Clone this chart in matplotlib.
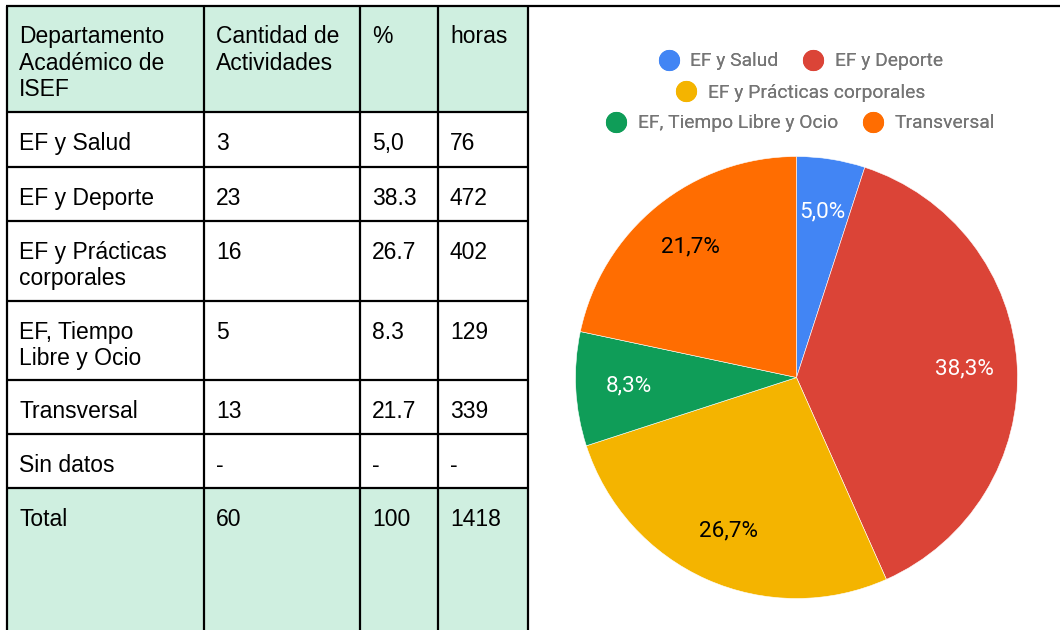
import matplotlib
matplotlib.use("Agg")
import matplotlib.pyplot as plt
from matplotlib.lines import Line2D
from matplotlib.patches import Rectangle

# ---- data ----
headers = ["Departamento\nAcadémico de\nISEF", "Cantidad de\nActividades", "%", "horas"]
dept_table = ["EF y Salud", "EF y Deporte", "EF y Prácticas\ncorporales",
              "EF, Tiempo\nLibre y Ocio", "Transversal", "Sin datos", "Total"]
activities = ["3", "23", "16", "5", "13", "-", "60"]
percent_txt = ["5,0", "38.3", "26.7", "8.3", "21.7", "-", "100"]
hours = ["76", "472", "402", "129", "339", "-", "1418"]

pie_labels = ["EF y Salud", "EF y Deporte", "EF y Prácticas corporales",
              "EF, Tiempo Libre y Ocio", "Transversal"]
pie_counts = [3, 23, 16, 5, 13]
pie_colors = ["#4285F4", "#DB4437", "#F4B400", "#0F9D58", "#FF6D01"]
pie_text_colors = ["white", "white", "black", "white", "black"]
legend_rows = [[0, 1], [2], [3, 4]]

W, H = 1060, 630
fig = plt.figure(figsize=(W / 100, H / 100), dpi=100)
fig.patch.set_facecolor("white")

# ---- table (pixel coordinate axes) ----
tab = fig.add_axes([0, 0, 1, 1])
tab.set_xlim(0, W)
tab.set_ylim(H, 0)
tab.axis("off")

col_x = [7, 204, 360, 438, 528]
row_y = [6, 112, 167, 221, 301, 380, 434, 488, H]
green = "#cfefe0"
lw = 1.6

tab.add_patch(Rectangle((col_x[0], row_y[0]), col_x[-1] - col_x[0], row_y[1] - row_y[0],
                        facecolor=green, edgecolor="none", zorder=0))
tab.add_patch(Rectangle((col_x[0], row_y[7]), col_x[-1] - col_x[0], row_y[8] - row_y[7],
                        facecolor=green, edgecolor="none", zorder=0))

for x in col_x:
    tab.plot([x, x], [row_y[0], H + 2], color="black", lw=lw, solid_capstyle="butt", zorder=2)
for y in row_y[1:-1]:
    tab.plot([col_x[0], col_x[-1]], [y, y], color="black", lw=lw, solid_capstyle="butt", zorder=2)
tab.plot([col_x[0] - 1, W], [row_y[0], row_y[0]], color="black", lw=lw, solid_capstyle="butt", zorder=2)

tfont = dict(family=["Liberation Sans", "DejaVu Sans"], size=16.5, color="black")
pad_x = 12
base_off = 38
line_h = 26.5


def cell(col, top, s):
    for i, line in enumerate(s.split("\n")):
        tab.text(col_x[col] + pad_x, top + base_off + i * line_h, line,
                 ha="left", va="baseline", **tfont)


for c, h in enumerate(headers):
    cell(c, row_y[0] - 1, h)

for r in range(len(dept_table)):
    vals = [dept_table[r], activities[r], percent_txt[r], hours[r]]
    for c, v in enumerate(vals):
        cell(c, row_y[r + 1], v)

# ---- pie ----
cx, cy, R = 796.5, 377.5, 221
pax = fig.add_axes([(cx - R) / W, (H - cy - R) / H, 2 * R / W, 2 * R / H])
wedges, texts, autotexts = pax.pie(
    pie_counts, colors=pie_colors, startangle=90, counterclock=False,
    autopct=lambda p: f"{p:.1f}%".replace(".", ","), pctdistance=0.76,
    wedgeprops=dict(edgecolor="white", linewidth=0.4),
    textprops=dict(family=["Roboto", "DejaVu Sans"], size=16.2))
for t, c in zip(autotexts, pie_text_colors):
    t.set_color(c)
pax.set_xlim(-1, 1)
pax.set_ylim(-1, 1)
pax.set_aspect("equal")
pax.axis("off")

# ---- legend rows ----
leg_y = [61.5, 92.5, 123.5]
for ri, idxs in enumerate(legend_rows):
    handles = [Line2D([], [], linestyle="none", marker="o", markersize=14.2,
                      markerfacecolor=pie_colors[i], markeredgecolor=pie_colors[i])
               for i in idxs]
    labels = [pie_labels[i] for i in idxs]
    leg = fig.legend(handles, labels, loc="center", ncol=len(idxs),
                     bbox_to_anchor=(801 / W, 1 - leg_y[ri] / H),
                     frameon=False, handlelength=1.0, handletextpad=0.62,
                     columnspacing=1.3, borderpad=0, borderaxespad=0,
                     prop=dict(family=["Roboto", "DejaVu Sans"], size=13.9))
    for t in leg.get_texts():
        t.set_color("#757575")
    fig.add_artist(leg)

fig.savefig("out.png", dpi=100, facecolor="white")
